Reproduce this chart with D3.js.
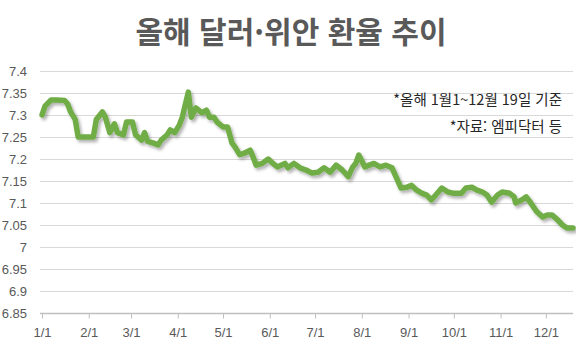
<!DOCTYPE html>
<html lang="ko">
<head>
<meta charset="UTF-8">
<title>올해 달러·위안 환율 추이</title>
<script src="https://d3js.org/d3.v7.min.js"></script>
<style>
  body { margin: 0; background: #fff; }
  svg { display: block; }
  .tick-label { font-family: "Liberation Sans", Arial, sans-serif; font-size: 13px; fill: #595959; }
  .title { font-family: "Noto Sans CJK KR", sans-serif; font-weight: bold; font-size: 30px; fill: #595959; }
  .note { font-family: "Noto Sans CJK KR", sans-serif; font-size: 14.5px; fill: #262626; }
</style>
</head>
<body>
<svg id="chart" width="576" height="351"></svg>
<script>
// USD/CNY, 2025
const dates = [
  "01-01","01-03","01-07","01-11","01-16","01-18","01-20","01-23","01-24","01-25",
  "02-04","02-06","02-10","02-12","02-15","02-18","02-20","02-24","02-26","03-02",
  "03-04","03-08","03-10","03-12","03-16","03-19","03-21","03-25","03-27","03-30",
  "04-02","04-04","04-08","04-10","04-13","04-17","04-20","04-22","04-25","04-27",
  "05-01","05-04","05-07","05-09","05-12","05-15","05-19","05-21","05-23","05-27",
  "05-31","06-03","06-06","06-11","06-13","06-17","06-21","06-25","06-29","07-03",
  "07-07","07-11","07-15","07-19","07-23","07-26","07-28","07-30","08-03","08-06",
  "08-09","08-13","08-17","08-21","08-24","08-27","08-31","09-03","09-06","09-10",
  "09-13","09-16","09-19","09-23","09-27","10-01","10-06","10-09","10-13","10-16",
  "10-20","10-23","10-26","10-30","11-02","11-07","11-10","11-11","11-15","11-18",
  "11-21","11-25","11-29","12-02","12-05","12-09","12-12","12-15","12-19"
];
const rates = [
  7.300,7.320,7.334,7.334,7.333,7.325,7.307,7.290,7.270,7.250,
  7.250,7.290,7.307,7.295,7.260,7.280,7.260,7.255,7.284,7.284,
  7.255,7.243,7.260,7.240,7.236,7.232,7.243,7.255,7.266,7.260,
  7.277,7.295,7.352,7.295,7.316,7.305,7.311,7.295,7.295,7.284,
  7.273,7.273,7.236,7.227,7.210,7.213,7.220,7.204,7.186,7.190,
  7.200,7.190,7.182,7.190,7.180,7.190,7.180,7.175,7.168,7.170,
  7.180,7.170,7.186,7.175,7.160,7.182,7.190,7.209,7.182,7.186,
  7.190,7.182,7.186,7.180,7.157,7.134,7.136,7.140,7.130,7.122,
  7.118,7.107,7.118,7.134,7.125,7.122,7.122,7.134,7.136,7.130,
  7.125,7.118,7.102,7.118,7.125,7.122,7.114,7.100,7.107,7.114,
  7.100,7.080,7.068,7.073,7.073,7.061,7.050,7.043,7.043
];
const yTicks = [6.85, 6.9, 6.95, 7, 7.05, 7.1, 7.15, 7.2, 7.25, 7.3, 7.35, 7.4];
const monthTicks = ["01-01","02-01","03-01","04-01","05-01","06-01","07-01","08-01","09-01","10-01","11-01","12-01"];
const title = "올해 달러·위안 환율 추이";
const notes = ["*올해 1월1~12월 19일 기준", "*자료: 엠피닥터 등"];

const parse = d3.timeParse("%Y-%m-%d");
const series = dates.map((d, i) => ({ date: parse("2025-" + d), value: rates[i] }));

const svg = d3.select("#chart");
const plot = { left: 42, right: 573, top: 71, bottom: 313 };

const x = d3.scaleTime()
  .domain([parse("2025-01-01"), parse("2025-12-19")])
  .range([plot.left, plot.right]);
const y = d3.scaleLinear()
  .domain([6.85, 7.4])
  .range([plot.bottom, plot.top]);

// title
svg.append("text")
  .attr("class", "title")
  .attr("x", 291).attr("y", 43)
  .attr("text-anchor", "middle")
  .text(title);

// gridlines
svg.append("g")
  .selectAll("line")
  .data(yTicks.filter(v => v > 6.85))
  .join("line")
  .attr("x1", plot.left - 2).attr("x2", plot.right)
  .attr("y1", d => Math.round(y(d)) + 0.5).attr("y2", d => Math.round(y(d)) + 0.5)
  .attr("stroke", "#d9d9d9");

// y labels
svg.append("g")
  .selectAll("text")
  .data(yTicks)
  .join("text")
  .attr("class", "tick-label")
  .attr("x", 27)
  .attr("y", d => y(d))
  .attr("dy", "0.35em")
  .attr("text-anchor", "end")
  .text(d => String(+d.toFixed(2)));

// x axis
const xAxis = d3.axisBottom(x)
  .tickValues(monthTicks.map(m => parse("2025-" + m)))
  .tickFormat(d3.timeFormat("%-m/%-d"))
  .tickSize(5)
  .tickPadding(9);

const gx = svg.append("g")
  .attr("transform", `translate(0,${Math.round(plot.bottom) + 0.5})`)
  .call(xAxis);
gx.select(".domain").attr("stroke", "#bfbfbf").attr("stroke-width", 1.5)
  .attr("d", `M${plot.left - 2},0H${plot.right}`);
gx.selectAll(".tick line").attr("stroke", "#bfbfbf");
gx.selectAll(".tick text")
  .attr("class", "tick-label")
  .attr("font-family", null).attr("font-size", null);
gx.attr("font-family", null).attr("font-size", null);

// notes
svg.append("g")
  .selectAll("text")
  .data(notes)
  .join("text")
  .attr("class", "note")
  .attr("x", 562)
  .attr("y", (d, i) => 105 + i * 27)
  .attr("text-anchor", "end")
  .text(d => d);

// line with a soft shadow
const defs = svg.append("defs");
defs.append("filter")
  .attr("id", "shadow")
  .attr("x", "-5%").attr("y", "-10%").attr("width", "110%").attr("height", "130%")
  .append("feDropShadow")
  .attr("dx", 2).attr("dy", 2.5)
  .attr("stdDeviation", 1.8)
  .attr("flood-color", "#000")
  .attr("flood-opacity", 0.3);

const line = d3.line()
  .x(d => x(d.date))
  .y(d => y(d.value));

svg.append("path")
  .datum(series)
  .attr("d", line)
  .attr("fill", "none")
  .attr("stroke", "#70ad47")
  .attr("stroke-width", 5.5)
  .attr("stroke-linejoin", "round")
  .attr("stroke-linecap", "round")
  .attr("filter", "url(#shadow)");
</script>
</body>
</html>
